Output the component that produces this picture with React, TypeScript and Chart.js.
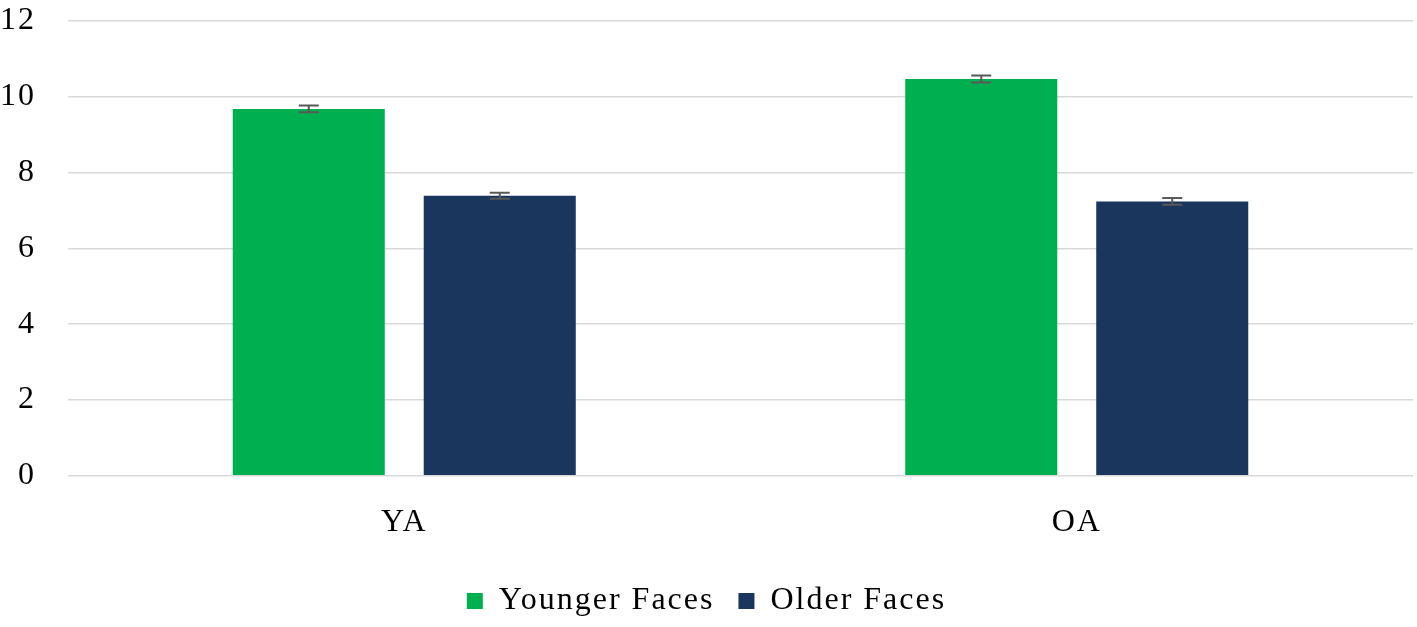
import React, { useEffect, useRef } from "react";
import { Chart, registerables } from "chart.js";

Chart.register(...registerables);

const categories = ["YA", "OA"];
const youngerFaces = [9.68, 10.47];
const olderFaces = [7.39, 7.24];
const youngerErr = [0.09, 0.09];
const olderErr = [0.08, 0.09];
const yTicks = [0, 2, 4, 6, 8, 10, 12];

const SPACING = "2px";
const spacingPlugin = {
  id: "letterSpacing",
  beforeInit(chart: any) {
    chart.ctx.letterSpacing = SPACING;
  },
  beforeUpdate(chart: any) {
    chart.ctx.letterSpacing = SPACING;
  },
  beforeDraw(chart: any) {
    chart.ctx.letterSpacing = SPACING;
  },
};

const errorBarPlugin = {
  id: "errorBars",
  afterDatasetsDraw(chart: any) {
    const ctx = chart.ctx;
    const yScale = chart.scales.y;
    const errs = [youngerErr, olderErr];
    chart.data.datasets.forEach((ds: any, di: number) => {
      const meta = chart.getDatasetMeta(di);
      meta.data.forEach((bar: any, i: number) => {
        const v = ds.data[i];
        const e = errs[di][i];
        const x = bar.x;
        const yTop = yScale.getPixelForValue(v + e);
        const yBot = yScale.getPixelForValue(v - e);
        ctx.save();
        ctx.strokeStyle = "#595959";
        ctx.lineWidth = 2;
        ctx.beginPath();
        ctx.moveTo(x, yTop);
        ctx.lineTo(x, yBot);
        ctx.moveTo(x - 10, yTop);
        ctx.lineTo(x + 10, yTop);
        ctx.moveTo(x - 10, yBot);
        ctx.lineTo(x + 10, yBot);
        ctx.stroke();
        ctx.restore();
      });
    });
  },
};

export default function App() {
  const ref = useRef<HTMLCanvasElement>(null);
  useEffect(() => {
    document.body.style.margin = "0";
    const font = { family: "'Liberation Serif', 'Times New Roman', serif", size: 32, lineHeight: 1.1 };
    const chart = new Chart(ref.current!, {
      type: "bar",
      data: {
        labels: categories,
        datasets: [
          {
            label: "Younger Faces",
            data: youngerFaces,
            backgroundColor: "#00B050",
            categoryPercentage: 0.568,
            barPercentage: 0.796,
          },
          {
            label: "Older Faces",
            data: olderFaces,
            backgroundColor: "#1B365D",
            categoryPercentage: 0.568,
            barPercentage: 0.796,
          },
        ],
      },
      options: {
        animation: false,
        responsive: false,
        layout: { padding: { top: 21, right: 4, bottom: 0, left: 0 } },
        scales: {
          x: {
            grid: { display: false },
            border: { display: false },
            ticks: { font, color: "#000", padding: 21 },
          },
          y: {
            min: 0,
            max: 12,
            afterBuildTicks: (scale: any) => {
              scale.ticks = yTicks.map((v) => ({ value: v }));
            },
            afterFit: (scale: any) => {
              scale.width = 68;
              scale.paddingTop = 0;
              scale.paddingBottom = 0;
            },
            grid: { color: "#d9d9d9", lineWidth: 1.5, drawTicks: false },
            border: { display: false },
            ticks: { font, color: "#000", padding: 32 },
          },
        },
        plugins: {
          legend: {
            position: "bottom",
            labels: {
              font,
              color: "#000",
              boxWidth: 16,
              boxHeight: 16,
              padding: 24,
            },
          },
          tooltip: { enabled: false },
        },
      },
      plugins: [spacingPlugin, errorBarPlugin],
    });
    return () => chart.destroy();
  }, []);
  return (
    <div style={{ width: 1417, height: 627 }}>
      <canvas ref={ref} width={1417} height={627} />
    </div>
  );
}
